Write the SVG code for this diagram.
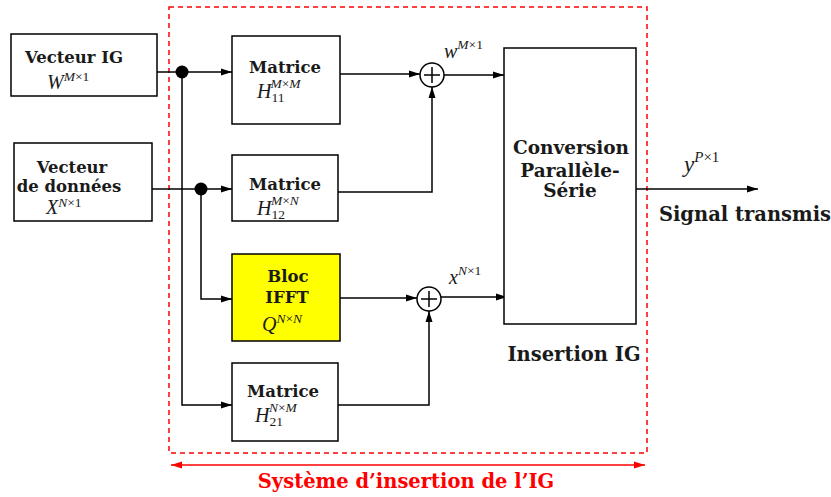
<svg xmlns="http://www.w3.org/2000/svg" width="831" height="497" viewBox="0 0 831 497">
<style>
.box{fill:#fff;stroke:#000;stroke-width:1.5}
.b{font-family:"DejaVu Serif","Liberation Serif",serif;font-weight:bold;font-size:16.5px;fill:#1a1a1a;text-anchor:middle}
.m{font-family:"Liberation Serif",serif;font-style:italic;font-size:20px;fill:#1a1a1a}
.s{font-size:13.5px}
.u{font-style:normal}
.ln{fill:none;stroke:#000;stroke-width:1.5}
.red{fill:none;stroke:#f00;stroke-width:1.5}
</style>
<defs>
<marker id="ar" markerUnits="userSpaceOnUse" markerWidth="12" markerHeight="10" refX="11" refY="5" orient="auto">
<path d="M0,1.5 L11,5 L0,8.5 Z" fill="#000"/>
</marker>
<marker id="rar" markerUnits="userSpaceOnUse" markerWidth="12" markerHeight="10" refX="11" refY="5" orient="auto-start-reverse">
<path d="M0,1.5 L11,5 L0,8.5 Z" fill="#f00"/>
</marker>
</defs>

<rect x="169" y="7" width="478" height="446" fill="none" stroke="#f00" stroke-width="1.5" stroke-dasharray="5,4"/>

<g id="connectors">
<path class="ln" d="M157,72 H232" marker-end="url(#ar)"/>
<path class="ln" d="M152,189 H232" marker-end="url(#ar)"/>
<path class="ln" d="M182,72 V405 H232" marker-end="url(#ar)"/>
<path class="ln" d="M201,189 V299 H232" marker-end="url(#ar)"/>
<path class="ln" d="M340,74 H420" marker-end="url(#ar)"/>
<path class="ln" d="M338,192 H432 V87" marker-end="url(#ar)"/>
<path class="ln" d="M444,75 H504" marker-end="url(#ar)"/>
<path class="ln" d="M340,298 H417" marker-end="url(#ar)"/>
<path class="ln" d="M338,405 H429 V311" marker-end="url(#ar)"/>
<path class="ln" d="M441,297 H507" marker-end="url(#ar)"/>
<path class="ln" d="M636,189 H758" marker-end="url(#ar)"/>
<circle cx="182" cy="72" r="6.5" fill="#000"/>
<circle cx="201" cy="189" r="6.5" fill="#000"/>
<path class="red" d="M171,465 H645" marker-start="url(#rar)" marker-end="url(#rar)"/>
</g>

<g id="vecteur-ig">
<rect class="box" x="11" y="34" width="146" height="62"/>
<text class="b" x="74" y="63">Vecteur IG</text>
<text class="m" x="47" y="89">W<tspan class="s" dy="-8">M<tspan class="u">×1</tspan></tspan></text>
</g>

<g id="vecteur-donnees">
<rect class="box" x="14" y="143" width="138" height="78"/>
<text class="b" x="72" y="173">Vecteur</text>
<text class="b" x="69" y="192">de données</text>
<text class="m" x="46" y="214">X<tspan class="s" dy="-7">N<tspan class="u">×1</tspan></tspan></text>
</g>

<g id="h11">
<rect class="box" x="232" y="36" width="108" height="88"/>
<text class="b" x="285" y="73">Matrice</text>
<text class="m" x="257" y="98">H<tspan class="s u" dy="4">11</tspan><tspan class="s" dx="-14" dy="-14">M<tspan class="u">×</tspan>M</tspan></text>
</g>

<g id="h12">
<rect class="box" x="232" y="155" width="106" height="66"/>
<text class="b" x="285" y="190">Matrice</text>
<text class="m" x="257" y="215">H<tspan class="s u" dy="4">12</tspan><tspan class="s" dx="-14" dy="-14">M<tspan class="u">×</tspan>N</tspan></text>
</g>

<g id="ifft">
<rect x="232" y="254" width="108" height="87" fill="#ff0" stroke="#000" stroke-width="1.5"/>
<text class="b" x="288" y="282">Bloc</text>
<text class="b" x="287" y="303">IFFT</text>
<text class="m" x="262" y="331">Q<tspan class="s" dy="-8">N<tspan class="u">×</tspan>N</tspan></text>
</g>

<g id="h21">
<rect class="box" x="232" y="363" width="106" height="78"/>
<text class="b" x="283" y="397">Matrice</text>
<text class="m" x="255" y="422">H<tspan class="s u" dy="4">21</tspan><tspan class="s" dx="-14" dy="-14">N<tspan class="u">×</tspan>M</tspan></text>
</g>

<g id="sum1">
<circle cx="432" cy="75" r="12" fill="#fff" stroke="#000" stroke-width="1.5"/>
<path class="ln" d="M424,75 H440 M432,67 V83"/>
<text class="m" x="444" y="58">w<tspan class="s" dy="-9">M<tspan class="u">×1</tspan></tspan></text>
</g>

<g id="sum2">
<circle cx="429" cy="299" r="12" fill="#fff" stroke="#000" stroke-width="1.5"/>
<path class="ln" d="M421,299 H437 M429,291 V307"/>
<text class="m" x="449" y="284">x<tspan class="s" dy="-9">N<tspan class="u">×1</tspan></tspan></text>
</g>

<g id="conversion">
<rect class="box" x="504" y="48" width="132" height="276"/>
<text class="b" x="571" y="154" style="font-size:18.5px">Conversion</text>
<text class="b" x="570" y="177" style="font-size:18.5px">Parallèle-</text>
<text class="b" x="570" y="197" style="font-size:18.5px">Série</text>
<text class="b" x="574" y="361" style="font-size:19.5px">Insertion IG</text>
</g>

<g id="output">
<text class="m" x="684" y="172" style="font-size:23px">y<tspan class="s" style="font-size:15px" dy="-10">P<tspan class="u">×1</tspan></tspan></text>
<text class="b" x="745" y="221" style="font-size:19.5px">Signal transmis</text>
</g>

<g id="systeme">
<text class="b" x="406" y="488" style="fill:#f00;font-size:19.5px">Système d’insertion de l’IG</text>
</g>
</svg>
